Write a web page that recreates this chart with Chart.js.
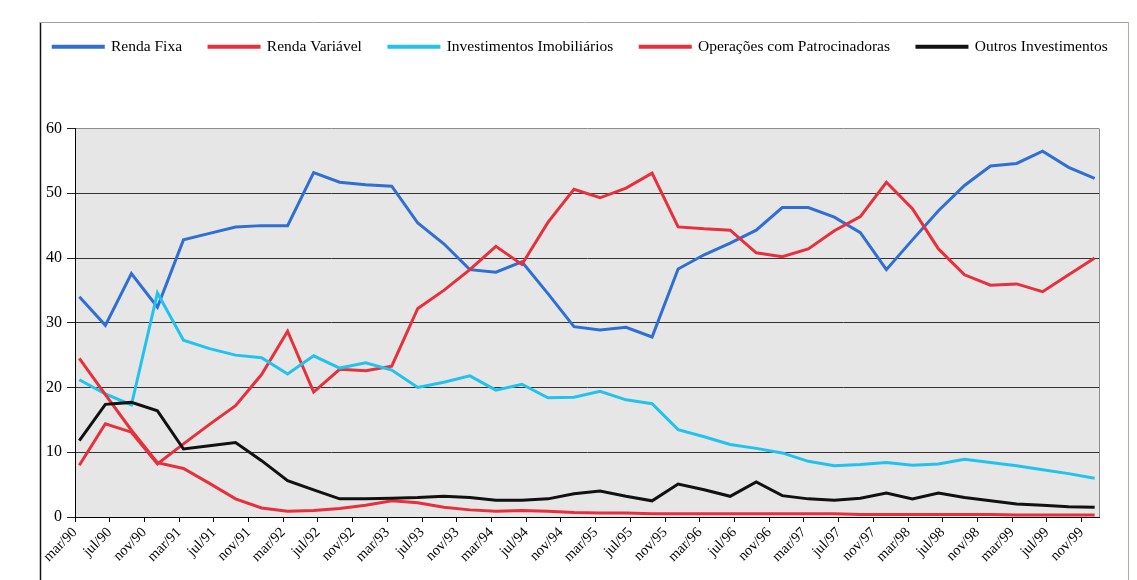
<!DOCTYPE html>
<html>
<head>
<meta charset="utf-8">
<script src="https://cdn.jsdelivr.net/npm/chart.js@4.4.1/dist/chart.umd.min.js"></script>
<style>
  html, body { margin: 0; padding: 0; background: #fff; }
  #wrap { width: 1137px; height: 580px; }
</style>
</head>
<body>
<div id="wrap"><canvas id="carteira" width="1137" height="580"></canvas></div>
<script>
// quarterly data, mar/90 .. dec/99 (% of portfolio)
const tickLabels = [
  'mar/90', 'jul/90', 'nov/90', 'mar/91', 'jul/91', 'nov/91', 'mar/92', 'jul/92', 'nov/92', 'mar/93',
  'jul/93', 'nov/93', 'mar/94', 'jul/94', 'nov/94', 'mar/95', 'jul/95', 'nov/95', 'mar/96', 'jul/96',
  'nov/96', 'mar/97', 'jul/97', 'nov/97', 'mar/98', 'jul/98', 'nov/98', 'mar/99', 'jul/99', 'nov/99'
];

const rendaFixa = [
  34.0, 29.6, 37.6, 32.4, 42.8, 43.8, 44.8, 45.0, 45.0, 53.2,
  51.7, 51.3, 51.1, 45.4, 42.2, 38.2, 37.8, 39.4, 34.5, 29.4,
  28.9, 29.3, 27.8, 38.3, 40.5, 42.3, 44.3, 47.8, 47.8, 46.3,
  43.9, 38.2, 42.8, 47.3, 51.2, 54.2, 54.6, 56.5, 54.0, 52.3
];
const rendaVariavel = [
  8.0, 14.4, 13.1, 8.2, 11.3, 14.3, 17.2, 22.0, 28.7, 19.3,
  22.8, 22.6, 23.3, 32.2, 35.0, 38.2, 41.8, 39.0, 45.5, 50.6,
  49.3, 50.8, 53.1, 44.8, 44.5, 44.3, 40.8, 40.2, 41.4, 44.2,
  46.4, 51.7, 47.6, 41.4, 37.4, 35.8, 36.0, 34.8, 37.4, 40.0
];
const imobiliarios = [
  21.2, 19.0, 17.3, 34.6, 27.3, 26.0, 25.0, 24.6, 22.1, 24.9,
  23.0, 23.8, 22.7, 20.0, 20.8, 21.8, 19.6, 20.5, 18.4, 18.5,
  19.4, 18.1, 17.5, 13.5, 12.4, 11.2, 10.6, 9.9, 8.6, 7.9,
  8.1, 8.4, 8.0, 8.2, 8.9, 8.4, 7.9, 7.3, 6.7, 6.0
];
const patrocinadoras = [
  24.5, 18.9, 13.4, 8.4, 7.5, 5.2, 2.8, 1.4, 0.9, 1.0,
  1.3, 1.8, 2.5, 2.2, 1.5, 1.1, 0.9, 1.0, 0.9, 0.7,
  0.6, 0.6, 0.5, 0.5, 0.5, 0.5, 0.5, 0.5, 0.5, 0.5,
  0.4, 0.4, 0.4, 0.4, 0.4, 0.4, 0.3, 0.3, 0.3, 0.3
];
const outros = [
  11.8, 17.4, 17.7, 16.4, 10.5, 11.0, 11.5, 8.7, 5.6, 4.2,
  2.8, 2.8, 2.9, 3.0, 3.2, 3.0, 2.6, 2.6, 2.8, 3.6,
  4.0, 3.2, 2.5, 5.1, 4.2, 3.2, 5.4, 3.3, 2.8, 2.6,
  2.9, 3.7, 2.8, 3.7, 3.0, 2.5, 2.0, 1.8, 1.6, 1.5
];

// x is in months since mar/90, one point per quarter
const toPoints = (arr) => arr.map((v, i) => ({ x: i * 3, y: v }));

const series = [
  { label: 'Renda Fixa', data: rendaFixa, color: '#2f6fd3' },
  { label: 'Renda Variável', data: rendaVariavel, color: '#e8303c' },
  { label: 'Investimentos Imobiliários', data: imobiliarios, color: '#22c2ef' },
  { label: 'Operações com Patrocinadoras', data: patrocinadoras, color: '#e8303c' },
  { label: 'Outros Investimentos', data: outros, color: '#111111' }
];

Chart.defaults.font.family = '"Liberation Serif", "Times New Roman", serif';
Chart.defaults.color = '#000';

// keeps a gap between the legend row and the plot
const legendGap = {
  id: 'legendGap',
  beforeInit(chart) {
    const fit = chart.legend.fit;
    chart.legend.fit = function () {
      fit.bind(chart.legend)();
      this.height += 64;
    };
  }
};

const plotFrame = {
  id: 'plotFrame',
  beforeDraw(chart) {
    const { ctx, chartArea: a } = chart;
    ctx.save();
    ctx.fillStyle = '#e6e6e6';
    ctx.fillRect(a.left, a.top, a.right - a.left, a.bottom - a.top);

    // outer border of the chart object
    ctx.strokeStyle = '#111';
    ctx.lineWidth = 1.5;
    ctx.beginPath();
    ctx.moveTo(40.5, 22);
    ctx.lineTo(40.5, 580);
    ctx.stroke();
    ctx.strokeStyle = '#a0a0a0';
    ctx.lineWidth = 1;
    ctx.beginPath();
    ctx.moveTo(40, 22.5);
    ctx.lineTo(1129, 22.5);
    ctx.stroke();
    ctx.strokeStyle = '#9fb59a';
    ctx.beginPath();
    ctx.moveTo(1128.5, 22);
    ctx.lineTo(1128.5, 580);
    ctx.stroke();
    ctx.restore();
  },
  beforeDatasetsDraw(chart) {
    const { ctx, chartArea: a } = chart;
    ctx.save();
    ctx.strokeStyle = '#8c8c8c';
    ctx.lineWidth = 1;
    ctx.beginPath();
    ctx.moveTo(Math.round(a.right) + 0.5, a.top);
    ctx.lineTo(Math.round(a.right) + 0.5, a.bottom);
    ctx.stroke();
    ctx.restore();
  }
};

new Chart(document.getElementById('carteira'), {
  type: 'line',
  data: {
    datasets: series.map((s, i) => ({
      label: s.label,
      data: toPoints(s.data),
      borderColor: s.color,
      backgroundColor: s.color,
      borderWidth: 3,
      pointRadius: 0,
      tension: 0,
      order: series.length - 1 - i
    }))
  },
  options: {
    responsive: false,
    animation: false,
    devicePixelRatio: 1,
    layout: { padding: { top: 12, left: 24, right: 0, bottom: 0 } },
    plugins: {
      legend: {
        position: 'top',
        labels: {
          font: { size: 15.5 },
          boxWidth: 50,
          boxHeight: 1,
          padding: 27,
          color: '#000',
          sort: (a, b) => a.datasetIndex - b.datasetIndex
        }
      },
      tooltip: { enabled: false }
    },
    scales: {
      x: {
        type: 'linear',
        min: -0.5,
        max: 117.5,
        afterBuildTicks: (scale) => {
          scale.ticks = tickLabels.map((_, k) => ({ value: -0.5 + 4 * k }));
        },
        afterFit: (scale) => { scale.height = 63; },
        ticks: {
          autoSkip: false,
          minRotation: 45,
          maxRotation: 45,
          padding: 2,
          font: { size: 14.5 },
          color: '#000',
          callback: (value) => tickLabels[Math.round((value + 0.5) / 4)]
        },
        grid: { drawOnChartArea: false, drawTicks: true, tickLength: 5, color: '#000' },
        border: { color: '#000', width: 1 }
      },
      y: {
        min: 0,
        max: 60,
        afterFit: (scale) => { scale.width = 51; },
        ticks: { stepSize: 10, padding: 5, font: { size: 16 }, color: '#000' },
        grid: {
          color: (c) => (c.tick && c.tick.value === 60 ? '#8c8c8c' : '#333'),
          tickColor: '#222',
          tickLength: 8
        },
        border: { color: '#000', width: 1 }
      },
      yRight: {
        position: 'right',
        display: true,
        afterFit: (scale) => { scale.width = 38; },
        ticks: { display: false },
        grid: { display: false },
        border: { display: false }
      }
    }
  },
  plugins: [plotFrame, legendGap]
});
</script>
</body>
</html>
